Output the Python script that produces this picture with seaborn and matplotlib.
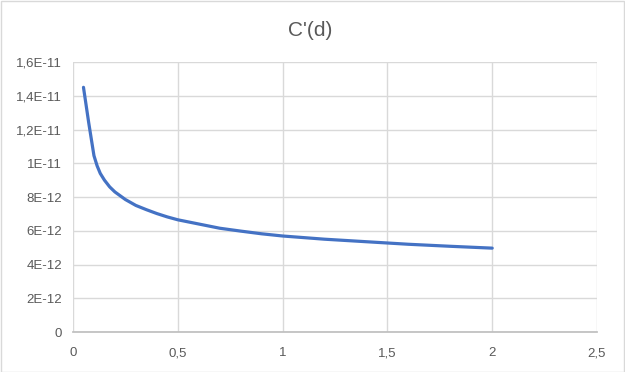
import matplotlib
matplotlib.use("Agg")
import matplotlib.pyplot as plt
import seaborn as sns
import pandas as pd

# Data
d_values = [0.05, 0.075, 0.1, 0.115, 0.13, 0.15, 0.175, 0.2, 0.25, 0.3, 0.35,
            0.4, 0.45, 0.5, 0.6, 0.7, 0.8, 0.9, 1.0, 1.2, 1.4, 1.6, 1.8, 2.0]
c_values = [14.5e-12, 12.4e-12, 10.45e-12, 9.85e-12, 9.4e-12, 9.0e-12,
            8.6e-12, 8.3e-12, 7.85e-12, 7.5e-12, 7.25e-12, 7.02e-12,
            6.82e-12, 6.65e-12, 6.4e-12, 6.15e-12, 5.98e-12, 5.82e-12,
            5.69e-12, 5.5e-12, 5.35e-12, 5.2e-12, 5.08e-12, 4.97e-12]
x_ticks = [0, 0.5, 1, 1.5, 2, 2.5]
x_tick_labels = ["0", "0,5", "1", "1,5", "2", "2,5"]
y_ticks = [0, 2e-12, 4e-12, 6e-12, 8e-12, 1e-11, 1.2e-11, 1.4e-11, 1.6e-11]
y_tick_labels = ["0", "2E-12", "4E-12", "6E-12", "8E-12", "1E-11",
                 "1,2E-11", "1,4E-11", "1,6E-11"]
title = "C'(d)"

df = pd.DataFrame({"d": d_values, "C": c_values})

sns.set_theme(style="white")
plt.rcParams['font.family'] = ['Liberation Sans', 'DejaVu Sans']

fig = plt.figure(figsize=(6.25, 3.72), dpi=100)
ax = fig.add_axes([0.1168, 0.1075, 0.8384, 0.7258])

sns.lineplot(data=df, x="d", y="C", ax=ax, color="#4472C4", linewidth=2.3)
ax.lines[0].set_solid_joinstyle("round")
ax.lines[0].set_solid_capstyle("round")

ax.set_xlim(0, 2.5)
ax.set_ylim(0, 1.6e-11)
ax.set_xticks(x_ticks)
ax.set_xticklabels(x_tick_labels)
ax.set_yticks(y_ticks)
ax.set_yticklabels(y_tick_labels)
ax.tick_params(axis="both", colors="#595959", labelsize=9.5, length=0)
ax.tick_params(axis="x", pad=11)
ax.tick_params(axis="y", pad=8)
ax.grid(True, color="#d9d9d9", linewidth=1)
ax.set_axisbelow(True)
for s in ["top", "right", "left"]:
    ax.spines[s].set_visible(False)
ax.spines["bottom"].set_color("#bfbfbf")
ax.set_xlabel("")
ax.set_ylabel("")

fig.text(0.496, 0.918, title, ha="center", va="center", fontsize=15, color="#595959")

# Chart area border
border = plt.Rectangle((0.001, 0.001), 0.998, 0.997, transform=fig.transFigure,
                       fill=False, edgecolor="#d9d9d9", linewidth=1)
fig.patches.append(border)

fig.savefig("out.png", dpi=100)
